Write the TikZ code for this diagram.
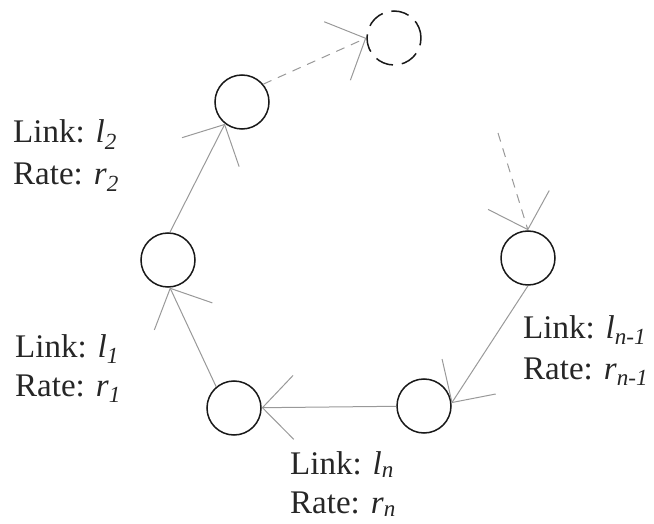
\documentclass[tikz,border=0pt]{standalone}
\usepackage{fontspec}
\setmainfont{Liberation Serif}
\usetikzlibrary{arrows.meta}
\newcommand\sub[2]{\textit{#1}\textsubscript{\textit{#2}}}
\begin{document}
\begin{tikzpicture}[x=1pt,y=-1pt,
  nd/.style={circle,draw=black!90,line width=1.5pt,minimum size=54pt,inner sep=0pt},
  edge/.style={draw=black!40,line width=1pt,
    -{Straight Barb[length=31pt,width=64pt]}},
  dashedge/.style={edge,dash pattern=on 9pt off 7pt},
  lab/.style={font=\fontsize{33}{40}\selectfont,text=black!85,inner sep=0pt,anchor=base west}]
\useasboundingbox (0,0) rectangle (654,524);
\node[nd] (A) at (234,408) {};
\node[nd] (B) at (424,406) {};
\node[nd] (C) at (528,258) {};
\node[nd] (D) at (168,260) {};
\node[nd] (E) at (242,102) {};
\node[nd,dash pattern=on 18pt off 9pt] (F) at (394,38) {};
\coordinate (S) at (498,133);
\draw[edge] (B) -- (A);
\draw[edge] (A.130) -- (D.-86);
\draw[edge] (D.86) -- (E.-128);
\draw[dashedge] (E.40) -- (F.180);
\draw[dashedge] (S) -- (C.90);
\draw[edge] (C.-90) -- (B.6);
\node[lab] (l2) at (13,143) {Link: \sub{l}{2}};
\node[lab] (r2) at (13,185) {Rate: \sub{r}{2}};
\node[lab] (l1) at (15,357) {Link: \sub{l}{1}};
\node[lab] (r1) at (15,396) {Rate: \sub{r}{1}};
\node[lab] (ln) at (290,474) {Link: \sub{l}{n}};
\node[lab] (rn) at (290,513) {Rate: \sub{r}{n}};
\node[lab] (lm) at (523,338) {Link: \sub{l}{n-1}};
\node[lab] (rm) at (523,379) {Rate: \sub{r}{n-1}};
\end{tikzpicture}
\end{document}
